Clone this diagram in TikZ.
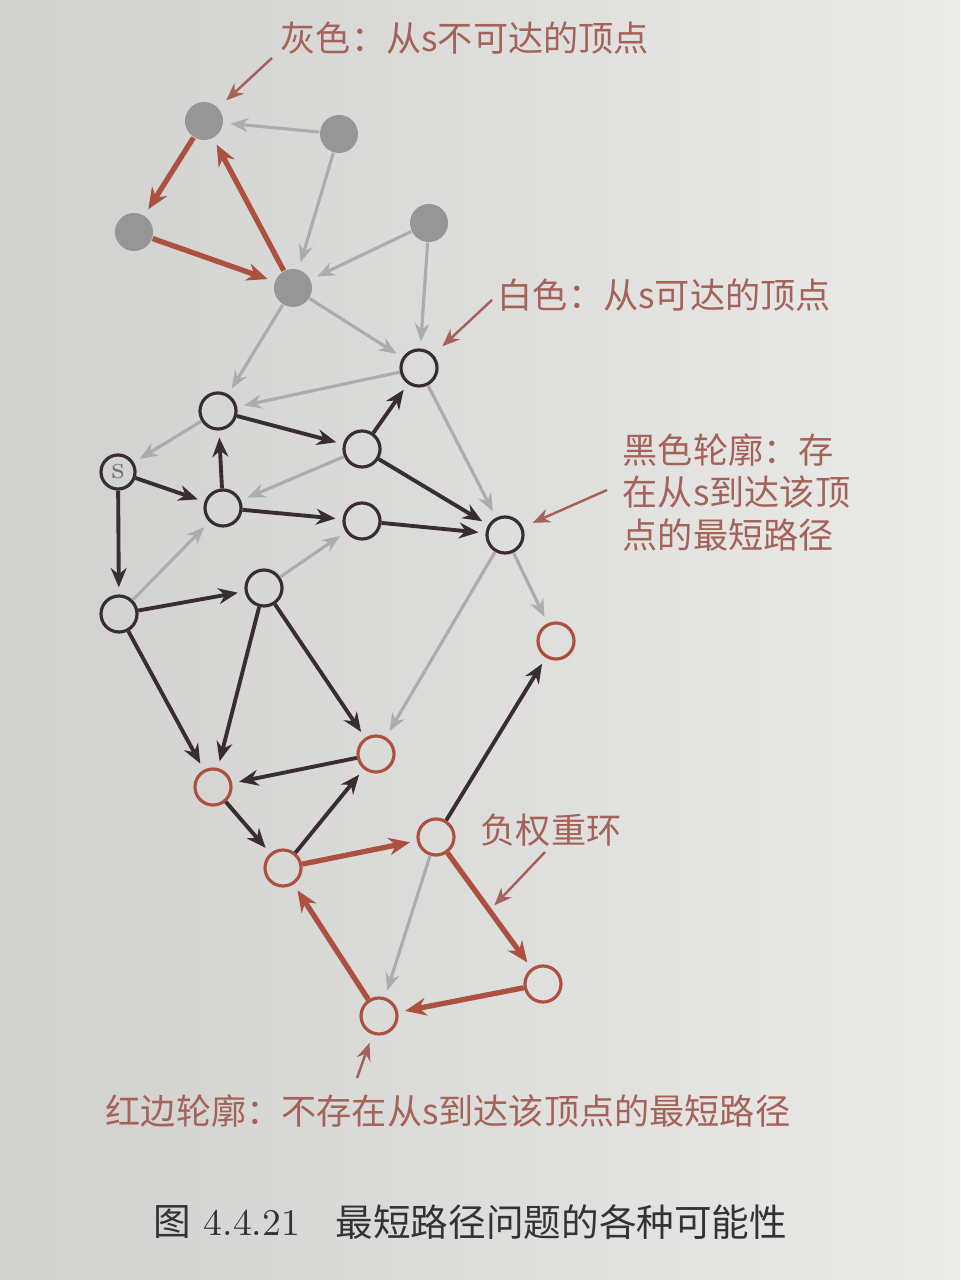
\documentclass[tikz,border=0pt]{standalone}
\usepackage{fontspec}
\usepackage{xcolor}
\newfontfamily\cjk{Noto Sans CJK SC}
\usetikzlibrary{arrows.meta,positioning}

\definecolor{edgered}{RGB}{172,80,64}
\definecolor{edgegray}{RGB}{172,172,172}
\definecolor{edgeblack}{RGB}{55,45,50}
\definecolor{vtxgray}{RGB}{150,150,150}
\definecolor{notered}{RGB}{165,98,88}
\definecolor{paperleft}{RGB}{208,208,206}
\definecolor{paperright}{RGB}{234,235,233}

\begin{document}
\begin{tikzpicture}[x=0.01cm,y=-0.01cm,
    vgray/.style={circle,fill=vtxgray,minimum size=0.38cm,inner sep=0pt},
    vblack/.style={circle,draw=edgeblack,line width=0.9pt,minimum size=0.36cm,inner sep=0pt},
    vred/.style={circle,draw=edgered,line width=0.9pt,minimum size=0.36cm,inner sep=0pt},
    egray/.style={draw=edgegray,line width=0.9pt,-{Stealth[length=5pt,width=4pt]},shorten >=2pt},
    eblack/.style={draw=edgeblack,line width=1.1pt,-{Stealth[length=5.5pt,width=4.5pt]},shorten >=2pt},
    ered/.style={draw=edgered,line width=1.5pt,-{Stealth[length=6pt,width=5pt]},shorten >=2pt},
    note/.style={font=\cjk\fontsize{10}{12.1}\selectfont,text=notered,inner sep=0pt,anchor=west},
    pointer/.style={draw=notered,line width=0.7pt,-{Stealth[length=5pt,width=4pt]}}]
    \shade[left color=paperleft,right color=paperright] (0,0) rectangle (960,1280);
    % unreachable vertices
    \node[vgray] (g1) at (204,121) {};
    \node[vgray] (g2) at (339,134) {};
    \node[vgray] (g3) at (134,232) {};
    \node[vgray] (g4) at (293,288) {};
    \node[vgray] (g5) at (429,223) {};
    % reachable vertices
    \node[vblack] (w1) at (419,368) {};
    \node[vblack] (w2) at (218,411) {};
    \node[vblack] (w3) at (362,449) {};
    \node[vblack,minimum size=0.34cm,font=\small,text=edgeblack!70] (s) at (118,472) {s};
    \node[vblack] (w4) at (223,508) {};
    \node[vblack] (w5) at (362,521) {};
    \node[vblack] (w6) at (505,535) {};
    \node[vblack] (w7) at (119,614) {};
    \node[vblack] (w8) at (264,588) {};
    % vertices with no shortest path
    \node[vred] (w9) at (556,641) {};
    \node[vred] (r1) at (376,754) {};
    \node[vred] (r2) at (213,787) {};
    \node[vred] (r3) at (283,868) {};
    \node[vred] (r4) at (436,837) {};
    \node[vred] (r5) at (543,984) {};
    \node[vred] (r6) at (379,1016) {};
    % gray edges
    \draw[egray] (g2) -- (g1);
    \draw[egray] (g2) -- (g4);
    \draw[egray] (g5) -- (g4);
    \draw[egray] (g5) -- (w1);
    \draw[egray] (g4) -- (w1);
    \draw[egray] (g4) -- (w2);
    \draw[egray] (w1) -- (w2);
    \draw[egray] (w2) -- (s);
    \draw[egray] (w1) -- (w6);
    \draw[egray] (w6) -- (w9);
    \draw[egray] (w3) -- (w4);
    \draw[egray] (w7) -- (w4);
    \draw[egray] (w8) -- (w5);
    \draw[egray] (w6) -- (r1);
    \draw[egray] (r4) -- (r6);
    % red edges
    \draw[ered] (g1) -- (g3);
    \draw[ered] (g3) -- (g4);
    \draw[ered] (g4) -- (g1);
    \draw[ered] (r3) -- (r4);
    \draw[ered] (r4) -- (r5);
    \draw[ered] (r5) -- (r6);
    \draw[ered] (r6) -- (r3);
    % black edges
    \draw[eblack] (w2) -- (w3);
    \draw[eblack] (w3) -- (w1);
    \draw[eblack] (w3) -- (w6);
    \draw[eblack] (s) -- (w4);
    \draw[eblack] (w4) -- (w2);
    \draw[eblack] (w4) -- (w5);
    \draw[eblack] (w5) -- (w6);
    \draw[eblack] (s) -- (w7);
    \draw[eblack] (w7) -- (w8);
    \draw[eblack] (w7) -- (r2);
    \draw[eblack] (w8) -- (r2);
    \draw[eblack] (w8) -- (r1);
    \draw[eblack] (r1) -- (r2);
    \draw[eblack] (r2) -- (r3);
    \draw[eblack] (r3) -- (r1);
    \draw[eblack] (r4) -- (w9);
    % labels
    \node[note] (t1) at (280,38) {灰色：从s不可达的顶点};
    \node[note] (t2) at (497,295) {白色：从s可达的顶点};
    \node[note,align=left,anchor=north west] (t3) at (622,433) {黑色轮廓：存\\在从s到达该顶\\点的最短路径};
    \node[note] (t4) at (480,830) {负权重环};
    \node[note] (t5) at (105,1111) {红边轮廓：不存在从s到达该顶点的最短路径};
    \coordinate (p1) at (272,58);
    \coordinate (p2) at (492,300);
    \coordinate (p3) at (607,490);
    \coordinate (p4) at (545,852);
    \coordinate (p5) at (357,1078);
    \path (r4) -- (r5) coordinate[pos=0.5] (cyc);
    \draw[pointer,shorten >=3pt] (p1) -- (g1);
    \draw[pointer,shorten >=3.5pt] (p2) -- (w1);
    \draw[pointer,shorten >=3pt] (p3) -- (w6);
    \draw[pointer,shorten >=2pt] (p4) -- (cyc);
    \draw[pointer,shorten >=2.5pt] (p5) -- (r6);
    % caption
    \node[inner sep=0pt,anchor=west,text=black!80,font=\fontsize{10.7}{12}\selectfont] (capnum) at (153,1222) {{\cjk 图} 4.4.21};
    \node[inner sep=0pt,anchor=west,text=black!80,font=\cjk\fontsize{10.7}{12}\selectfont] (captxt) at (335,1222) {最短路径问题的各种可能性};
\end{tikzpicture}
\end{document}
